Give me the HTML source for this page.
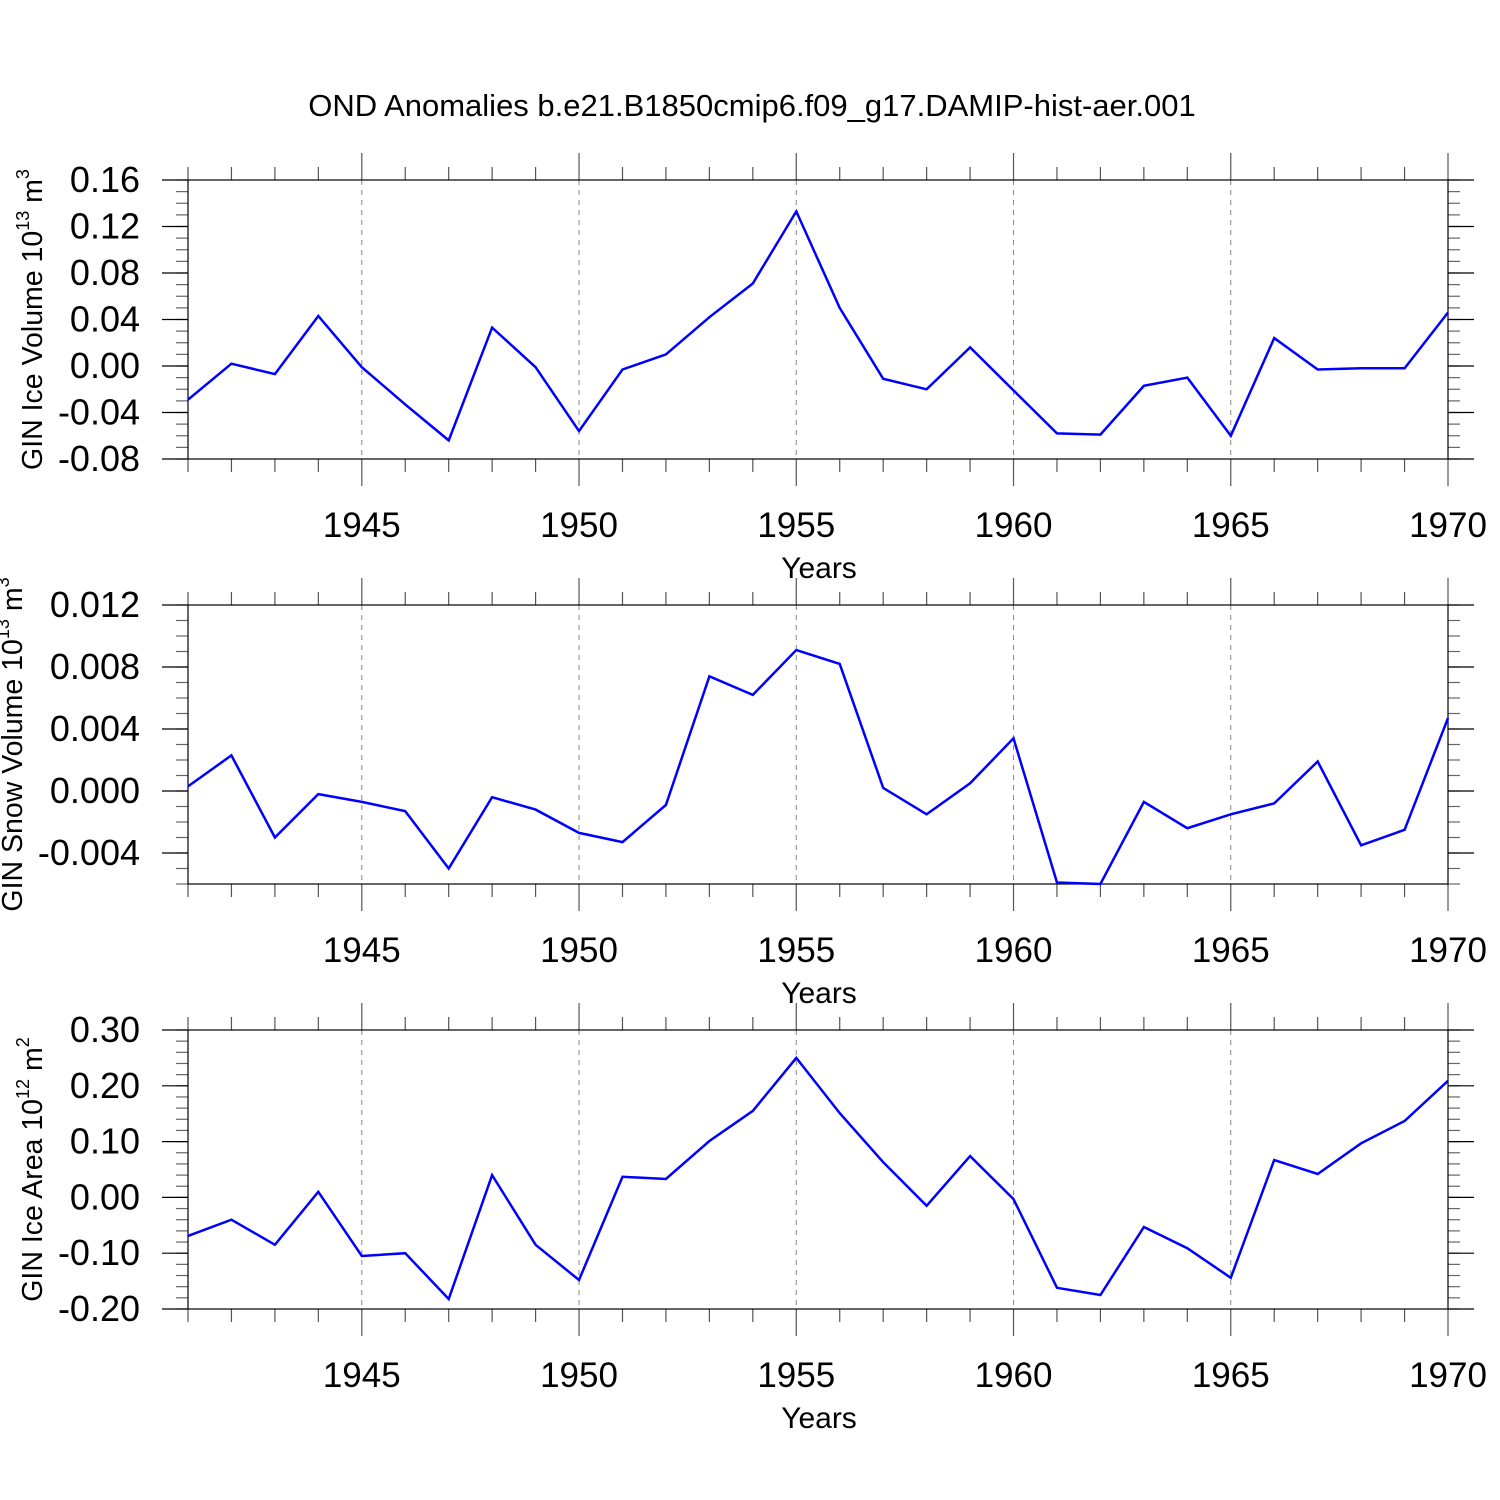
<!DOCTYPE html>
<html><head><meta charset="utf-8"><style>body{margin:0;background:#fff}svg{display:block}text{font-family:"Liberation Sans",sans-serif;fill:#000}</style></head>
<body>
<svg id="chart" width="1500" height="1500" xmlns="http://www.w3.org/2000/svg">
<text x="752" y="116" font-size="31" text-anchor="middle">OND Anomalies b.e21.B1850cmip6.f09_g17.DAMIP-hist-aer.001</text>
</svg>
<script>
const years = [1941,1942,1943,1944,1945,1946,1947,1948,1949,1950,1951,1952,1953,1954,1955,1956,1957,1958,1959,1960,1961,1962,1963,1964,1965,1966,1967,1968,1969,1970];
const iceVolume = [-0.029,0.002,-0.007,0.043,-0.001,-0.033,-0.064,0.033,-0.001,-0.056,-0.003,0.010,0.042,0.071,0.133,0.050,-0.011,-0.020,0.016,-0.021,-0.058,-0.059,-0.017,-0.010,-0.060,0.024,-0.003,-0.002,-0.002,0.046];
const snowVolume = [0.0003,0.0023,-0.0030,-0.0002,-0.0007,-0.0013,-0.0050,-0.0004,-0.0012,-0.0027,-0.0033,-0.0009,0.0074,0.0062,0.0091,0.0082,0.0002,-0.0015,0.0005,0.0034,-0.0059,-0.0060,-0.0007,-0.0024,-0.0015,-0.0008,0.0019,-0.0035,-0.0025,0.0047];
const iceArea = [-0.069,-0.040,-0.085,0.010,-0.105,-0.100,-0.182,0.040,-0.085,-0.148,0.037,0.033,0.101,0.155,0.250,0.151,0.063,-0.015,0.074,-0.003,-0.162,-0.175,-0.053,-0.091,-0.144,0.067,0.042,0.097,0.137,0.209];
const xTicks = [1945,1950,1955,1960,1965,1970];
const iceVolTicks = ["0.16","0.12","0.08","0.04","0.00","-0.04","-0.08"];
const snowTicks = ["0.012","0.008","0.004","0.000","-0.004"];
const areaTicks = ["0.30","0.20","0.10","0.00","-0.10","-0.20"];

const NS="http://www.w3.org/2000/svg";
const svg=document.getElementById('chart');
function mk(tag,attrs,parent){const e=document.createElementNS(NS,tag);for(const k in attrs)e.setAttribute(k,attrs[k]);(parent||svg).appendChild(e);return e;}
const X0=188,X1=1448;
const xs=y=>X0+(y-1941)/(1970-1941)*(X1-X0);

function panel(name,top,bot,ymin,ymax,data,ticks,minorStep,label,sup,unit){
  const g=mk('g',{});
  
  
  const ys=v=>bot-(v-ymin)/(ymax-ymin)*(bot-top);
  xTicks.slice(0,5).forEach(t=>{const l=mk('line',{x1:xs(t),x2:xs(t),y1:top,y2:bot,stroke:'#888','stroke-width':1,'stroke-dasharray':'5,5'},g);
    });
  years.forEach(y=>{const maj=(y%5===0);const x=xs(y);
    mk('line',{x1:x,x2:x,y1:top,y2:top-(maj?27:13),stroke:'#555','stroke-width':1.2},g);
    mk('line',{x1:x,x2:x,y1:bot,y2:bot+(maj?27:13),stroke:'#555','stroke-width':1.2},g);});
  xTicks.forEach(t=>{const tx=mk('text',{x:xs(t),y:bot+78,'font-size':35,'text-anchor':'middle'},g);tx.textContent=t;
    });
  const xt=mk('text',{x:819,y:bot+119,'font-size':30,'text-anchor':'middle'},g);xt.textContent='Years';
  
  const n=Math.round((ymax-ymin)/minorStep);
  for(let i=0;i<=n;i++){const v=ymin+i*minorStep;const y=ys(v);
    mk('line',{x1:X0,x2:X0-12,y1:y,y2:y,stroke:'#666','stroke-width':1.2},g);
    mk('line',{x1:X1,x2:X1+12,y1:y,y2:y,stroke:'#666','stroke-width':1.2},g);}
  ticks.forEach(t=>{const y=ys(parseFloat(t));
    mk('line',{x1:X0,x2:X0-26,y1:y,y2:y,stroke:'#000','stroke-width':1.2},g);
    mk('line',{x1:X1,x2:X1+26,y1:y,y2:y,stroke:'#000','stroke-width':1.2},g);
    const tx=mk('text',{x:140,y:y+12,'font-size':36,'text-anchor':'end'},g);tx.textContent=t;
    });
  mk('rect',{x:X0,y:top,width:X1-X0,height:bot-top,fill:'none',stroke:'#000','stroke-width':1.2},g);
  const pts=data.map((v,i)=>xs(years[i]).toFixed(1)+','+ys(v).toFixed(1)).join(' ');
  const pl=mk('polyline',{points:pts,fill:'none',stroke:'#0000ff','stroke-width':2.5,'stroke-linejoin':'miter'},g);
  
  const cy=(top+bot)/2;
  const yl=mk('text',{transform:`translate(${label.x},${cy}) rotate(-90)`,'font-size':28.5,'text-anchor':'middle'},g);
  
  yl.innerHTML=label.t+' 10<tspan dy="-13" font-size="18">'+sup+'</tspan><tspan dy="13"> '+unit+'</tspan><tspan dy="-13" font-size="18">'+label.p+'</tspan>';
}
panel('ice-volume',180,459,-0.08,0.16,iceVolume,iceVolTicks,0.01,{x:42,t:'GIN Ice Volume',p:'3'},'13','m');
panel('snow-volume',605,884,-0.006,0.012,snowVolume,snowTicks,0.001,{x:22,t:'GIN Snow Volume',p:'3'},'13','m');
panel('ice-area',1030,1309,-0.20,0.30,iceArea,areaTicks,0.02,{x:42,t:'GIN Ice Area',p:'2'},'12','m');
</script>
</body></html>
